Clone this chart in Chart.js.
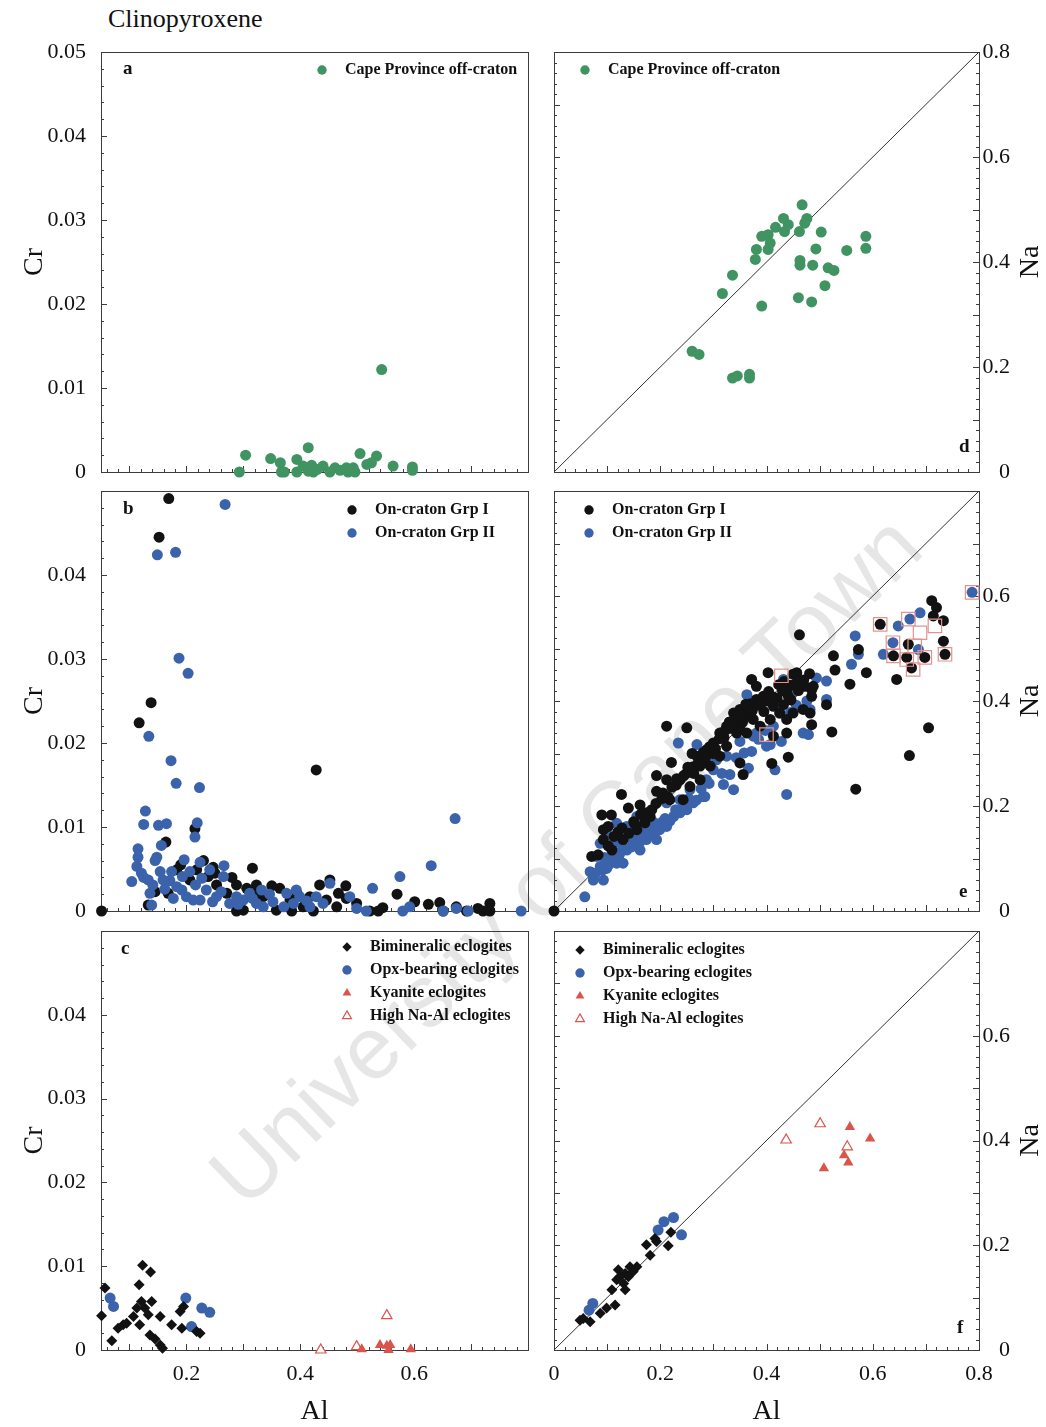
<!DOCTYPE html>
<html lang="en">
<head>
    <meta charset="UTF-8">
    <title>Clinopyroxene</title>
    <script src="https://cdn.jsdelivr.net/npm/chart.js"></script>
    <style>
        html, body { margin: 0; padding: 0; background: #fff; overflow: hidden; }
        #page { position: relative; width: 1046px; height: 1427px; }
        #page canvas { position: absolute; }
        .heading {
            position: absolute; left: 108px; top: 4px;
            font: 26px "Liberation Serif", "Times New Roman", serif; color: #111;
        }
        .stamp {
            position: absolute; left: 565px; top: 860px; white-space: nowrap;
            transform: translate(-50%, -50%) rotate(-44deg);
            font: 88px "Liberation Sans", Arial, sans-serif; color: #e6e6e6;
        }
    </style>
</head>
<body>
<div id="page">
    <div class="stamp">University of Cape Town</div>
    <div class="heading">Clinopyroxene</div>
    <canvas id="panelA" width="545" height="490" style="left:0;top:0"></canvas>
    <canvas id="panelD" width="511" height="490" style="left:535px;top:0"></canvas>
    <canvas id="panelB" width="545" height="460" style="left:0;top:470px"></canvas>
    <canvas id="panelE" width="511" height="460" style="left:535px;top:470px"></canvas>
    <canvas id="panelC" width="545" height="517" style="left:0;top:910px"></canvas>
    <canvas id="panelF" width="511" height="517" style="left:535px;top:910px"></canvas>
</div>

<script>
// tick labels
const crTicksTop = [0, 0.01, 0.02, 0.03, 0.04, 0.05];
const crTicks = [0, 0.01, 0.02, 0.03, 0.04];
const naTicksTop = [0, 0.2, 0.4, 0.6, 0.8];
const naTicks = [0, 0.2, 0.4, 0.6];
const alTicksLeft = [0.2, 0.4, 0.6];
const alTicksRight = [0, 0.2, 0.4, 0.6, 0.8];
const diagonal = [[0, 0], [0.8, 0.8]];

// Cape Province off-craton  [Al, Cr] and [Al, Na]
const capeAlCr = [[0.543,0.0122],[0.414,0.0029],[0.304,0.0020],[0.348,0.0016],[0.365,0.0011],[0.394,0.0015],
    [0.505,0.0022],[0.534,0.0019],[0.525,0.0011],[0.563,0.0007],[0.597,0.0006],[0.597,0.0002],[0.293,0],
    [0.367,0],[0.394,0],[0.414,0.0001],[0.423,0],[0.405,0.0007],[0.420,0.0008],[0.440,0.0007],[0.452,0],
    [0.461,0.0005],[0.481,0.0005],[0.484,0],[0.496,0],[0.493,0.0005],[0.517,0.0009],[0.372,0],[0.430,0.0003],[0.470,0.0002]];
const capeAlNa = [[0.467,0.509],[0.432,0.483],[0.441,0.471],[0.476,0.483],[0.472,0.474],[0.417,0.466],[0.434,0.458],
    [0.462,0.458],[0.503,0.457],[0.391,0.449],[0.403,0.452],[0.407,0.436],[0.381,0.424],[0.403,0.424],[0.379,0.405],
    [0.493,0.425],[0.551,0.422],[0.587,0.449],[0.587,0.426],[0.463,0.403],[0.463,0.394],[0.487,0.394],[0.516,0.389],
    [0.527,0.384],[0.510,0.355],[0.336,0.375],[0.317,0.340],[0.391,0.316],[0.460,0.332],[0.485,0.324],[0.260,0.230],
    [0.273,0.224],[0.336,0.179],[0.345,0.183],[0.368,0.186],[0.368,0.179]];

// On-craton groups
const grp1AlCr = [[0.169,0.0491],[0.152,0.0445],[0.138,0.0248],[0.117,0.0224],[0.428,0.0168],[0.164,0.0082],
    [0.215,0.0098],[0.316,0.0051],[0.051,0],[0.570,0.0020],[0.625,0.0008],[0.645,0.0010],[0.601,0.0011],[0.733,0.0009],
    [0.712,0.0003],[0.721,0],[0.651,0],[0.674,0.0005],[0.545,0.0004],[0.522,0],[0.230,0.0060],[0.247,0.0052],
    [0.253,0.0031],[0.288,0.0031],[0.306,0.0027],[0.434,0.0031],[0.452,0.0037],[0.467,0.0021],[0.133,0.0007],
    [0.145,0.0023],[0.168,0.0021],[0.364,0.0027],[0.206,0.0037],[0.183,0.0049],[0.271,0.0021],[0.335,0.0017],
    [0.382,0.0013],[0.405,0.0005],[0.417,0.0017],[0.481,0.0015],[0.499,0.0009],[0.288,0],[0.300,0.0001],[0.385,0],
    [0.423,0],[0.537,0],[0.464,0.0005],[0.733,0],[0.692,0],[0.218,0.0049],[0.238,0.0041],[0.323,0.0031],
    [0.358,0.0001],[0.446,0.0013],[0.190,0.0055],[0.250,0.0045],[0.280,0.0040],[0.320,0.0020],[0.350,0.0030],
    [0.395,0.0020],[0.480,0.0030]];
const grp2AlCr = [[0.268,0.0484],[0.149,0.0424],[0.181,0.0427],[0.187,0.0301],[0.203,0.0283],[0.134,0.0208],
    [0.173,0.0179],[0.182,0.0152],[0.223,0.0147],[0.128,0.0119],[0.125,0.0103],[0.151,0.0102],[0.165,0.0104],
    [0.219,0.0105],[0.215,0.0088],[0.156,0.0078],[0.115,0.0074],[0.115,0.0064],[0.148,0.0064],[0.145,0.0060],
    [0.196,0.0061],[0.672,0.0110],[0.630,0.0054],[0.575,0.0041],[0.527,0.0027],[0.788,0],[0.266,0.0054],
    [0.265,0.0041],[0.104,0.0035],[0.224,0.0058],[0.241,0.0049],[0.227,0.0039],[0.206,0.0047],[0.121,0.0045],
    [0.154,0.0047],[0.174,0.0047],[0.159,0.0037],[0.183,0.0029],[0.136,0.0021],[0.139,0.0007],[0.177,0.0015],
    [0.200,0.0017],[0.224,0.0013],[0.253,0.0017],[0.276,0.0009],[0.300,0.0013],[0.323,0.0009],[0.335,0.0005],
    [0.352,0.0011],[0.376,0.0021],[0.388,0.0009],[0.399,0.0017],[0.417,0.0005],[0.440,0.0009],[0.452,0.0033],
    [0.487,0.0017],[0.499,0.0003],[0.516,0],[0.580,0],[0.592,0.0005],[0.651,0],[0.674,0.0003],[0.695,0],
    [0.113,0.0053],[0.133,0.0037],[0.192,0.0025],[0.212,0.0013],[0.235,0.0025],[0.288,0.0017],[0.311,0.0021],
    [0.332,0.0025],[0.393,0.0025],[0.428,0.0017],[0.125,0.0040],[0.141,0.0031],[0.162,0.0026],[0.171,0.0036],
    [0.193,0.0041],[0.216,0.0031],[0.246,0.0011],[0.261,0.0023],[0.291,0.0008],[0.316,0.0015],[0.346,0.0020],
    [0.371,0.0005],[0.411,0.0012]];
const grp1AlNa = [[0.462,0.526],[0.711,0.591],[0.720,0.578],[0.714,0.562],[0.733,0.553],[0.733,0.514],[0.736,0.489],
    [0.698,0.483],[0.667,0.508],[0.664,0.483],[0.673,0.463],[0.639,0.486],[0.614,0.546],[0.645,0.441],[0.557,0.432],
    [0.588,0.454],[0.705,0.349],[0.669,0.296],[0.568,0.232],[0.523,0.341],[0.529,0.459],[0.526,0.486],[0.573,0.498],
    [0.513,0.393],[0.485,0.355],[0.441,0.293],[0.410,0.281],[0.356,0.260],[0.372,0.441],[0.403,0.454],[0.450,0.451],
    [0.438,0.416],[0.485,0.422],[0.212,0.352],[0.250,0.349],[0.193,0.258],[0.221,0.283],[0.127,0.222],[0.108,0.183],
    [0.093,0.155],[0.071,0.104],[0,0],[0.090,0.183],[0.102,0.161],[0.140,0.196],[0.162,0.202],[0.174,0.187],
    [0.193,0.228],[0.237,0.250],[0.250,0.263],[0.275,0.276],[0.269,0.295],[0.287,0.307],[0.300,0.320],[0.312,0.339],
    [0.325,0.352],[0.338,0.377],[0.350,0.384],[0.363,0.387],[0.375,0.365],[0.381,0.403],[0.394,0.409],[0.413,0.390],
    [0.425,0.377],[0.438,0.365],[0.450,0.377],[0.457,0.454],[0.441,0.409],[0.432,0.393],[0.381,0.428],[0.344,0.339],
    [0.325,0.314],[0.294,0.276],[0.256,0.237],[0.218,0.212],[0.181,0.180],[0.156,0.155],[0.130,0.136],[0.109,0.116],
    [0.093,0.136],[0.083,0.107],[0.350,0.352],[0.363,0.339],[0.388,0.352],[0.407,0.365],[0.413,0.333],[0.438,0.339],
    [0.485,0.409],[0.482,0.377],[0.469,0.384],[0.488,0.428],[0.312,0.295],[0.275,0.250],[0.212,0.250],[0.350,0.282],
    [0.243,0.212],[0.330,0.360],[0.345,0.370],[0.360,0.372],[0.370,0.395],[0.395,0.380],[0.400,0.400],[0.420,0.405],
    [0.430,0.420],[0.445,0.430],[0.460,0.420],[0.470,0.440],[0.355,0.360],[0.300,0.300],[0.285,0.290],[0.262,0.275],
    [0.230,0.240],[0.205,0.225],[0.150,0.170],[0.120,0.150],[0.260,0.300],[0.320,0.330],
    [0.102,0.124],[0.113,0.142],[0.128,0.158],[0.141,0.148],[0.152,0.166],[0.163,0.184],[0.171,0.168],[0.184,0.193],
    [0.192,0.205],[0.203,0.214],[0.214,0.218],[0.222,0.236],[0.231,0.252],[0.244,0.258],[0.252,0.274],[0.263,0.262],
    [0.272,0.284],[0.281,0.302],[0.293,0.313],[0.304,0.309],[0.311,0.328],[0.322,0.344],[0.333,0.348],[0.342,0.362],
    [0.352,0.372],[0.361,0.394],[0.373,0.381],[0.384,0.392],[0.392,0.398],[0.404,0.418],[0.414,0.407],[0.423,0.431],
    [0.433,0.437],[0.446,0.402],[0.458,0.437],[0.472,0.428],[0.481,0.452]];
const grp2AlNa = [[0.058,0.027],[0.068,0.075],[0.074,0.066],[0.087,0.085],[0.099,0.081],[0.105,0.097],[0.124,0.110],
    [0.118,0.091],[0.137,0.116],[0.149,0.129],[0.162,0.132],[0.168,0.148],[0.181,0.145],[0.187,0.161],[0.199,0.155],
    [0.206,0.171],[0.212,0.161],[0.225,0.180],[0.237,0.187],[0.250,0.193],[0.262,0.206],[0.281,0.218],[0.284,0.218],
    [0.256,0.231],[0.237,0.212],[0.212,0.206],[0.156,0.180],[0.137,0.161],[0.118,0.167],[0.099,0.148],[0.087,0.129],
    [0.080,0.104],[0.112,0.129],[0.143,0.142],[0.174,0.136],[0.193,0.136],[0.162,0.116],[0.130,0.091],[0.093,0.059],
    [0.074,0.059],[0.300,0.269],[0.306,0.288],[0.319,0.241],[0.331,0.260],[0.338,0.231],[0.366,0.272],[0.416,0.269],
    [0.438,0.222],[0.407,0.317],[0.428,0.323],[0.413,0.352],[0.425,0.377],[0.469,0.339],[0.479,0.336],[0.482,0.384],
    [0.476,0.400],[0.513,0.403],[0.494,0.444],[0.513,0.438],[0.560,0.470],[0.573,0.489],[0.567,0.524],[0.620,0.489],
    [0.638,0.511],[0.648,0.543],[0.670,0.556],[0.689,0.568],[0.686,0.498],[0.787,0.607],[0.363,0.412],[0.372,0.304],
    [0.350,0.323],[0.341,0.349],[0.375,0.333],[0.300,0.314],[0.269,0.317],[0.234,0.320],[0.325,0.295],[0.350,0.346],
    [0.381,0.339],[0.432,0.441],[0.450,0.416],[0.400,0.314],[0.287,0.250],
    [0.078,0.072],[0.091,0.078],[0.103,0.088],[0.112,0.101],[0.122,0.104],[0.133,0.118],[0.146,0.122],[0.154,0.138],
    [0.166,0.139],[0.176,0.152],[0.188,0.149],[0.197,0.166],[0.209,0.176],[0.218,0.171],[0.229,0.193],[0.243,0.199],
    [0.254,0.214],[0.268,0.211],[0.277,0.233],[0.292,0.243],[0.316,0.262],[0.343,0.292],[0.358,0.301],[0.385,0.327],
    [0.398,0.344],[0.445,0.378],[0.456,0.392],[0.095,0.102],[0.128,0.126],[0.185,0.171]];
const squaredAlNa = [[0.614,0.546],[0.638,0.511],[0.667,0.556],[0.689,0.530],[0.679,0.505],[0.664,0.479],[0.676,0.460],
    [0.698,0.483],[0.717,0.543],[0.736,0.489],[0.787,0.607],[0.428,0.448],[0.400,0.336],[0.639,0.486]];

// eclogite types
const bimAlCr = [[0.123,0.0101],[0.137,0.0093],[0.117,0.0078],[0.057,0.0074],[0.051,0.0041],[0.113,0.0050],
    [0.121,0.0058],[0.127,0.0050],[0.139,0.0058],[0.133,0.0042],[0.154,0.0040],[0.118,0.0030],[0.089,0.0030],
    [0.080,0.0026],[0.095,0.0032],[0.107,0.0040],[0.136,0.0018],[0.145,0.0013],[0.154,0.0006],[0.158,0.0002],
    [0.069,0.0011],[0.174,0.0030],[0.192,0.0026],[0.189,0.0046],[0.195,0.0052],[0.218,0.0022],[0.224,0.0020]];
const opxAlCr = [[0.066,0.0062],[0.072,0.0052],[0.199,0.0062],[0.227,0.0050],[0.241,0.0045],[0.209,0.0028]];
const kyAlCr = [[0.508,0.0001],[0.540,0.0006],[0.552,0.0005],[0.558,0.0006],[0.555,0],[0.594,0.0001]];
const hnaAlCr = [[0.552,0.0041],[0.436,0],[0.499,0.0004]];
const bimAlNa = [[0.220,0.225],[0.215,0.199],[0.190,0.213],[0.174,0.201],[0.181,0.181],[0.156,0.159],[0.143,0.159],
    [0.134,0.146],[0.121,0.153],[0.118,0.134],[0.131,0.127],[0.109,0.115],[0.134,0.115],[0.115,0.086],[0.087,0.070],
    [0.099,0.080],[0.055,0.060],[0.068,0.054],[0.049,0.057],[0.140,0.140],[0.149,0.150],[0.124,0.140],[0.193,0.207]];
const opxAlNa = [[0.225,0.253],[0.207,0.245],[0.196,0.229],[0.240,0.220],[0.073,0.089],[0.066,0.076]];
const kyAlNa = [[0.557,0.426],[0.595,0.404],[0.546,0.372],[0.554,0.358],[0.508,0.347]];
const hnaAlNa = [[0.501,0.432],[0.437,0.401],[0.552,0.388]];

const serif = '"Liberation Serif", "Times New Roman", serif';
const GREEN = '#3f9461', BLUE = '#3b63ab', BLACK = '#121212', RED = '#d9544b', PINK = '#e3938d';

function series(rows, label, color, style, r, order, hollow) {
    return {
        label, order, clip: false, showLine: false,
        data: rows.map(([x, y]) => ({x, y})),
        pointStyle: style, pointRadius: r, pointHoverRadius: r,
        pointBackgroundColor: hollow ? (hollow === 'clear' ? 'rgba(0,0,0,0)' : '#fff') : color,
        pointBorderColor: color, pointBorderWidth: hollow ? 1.2 : 0
    };
}

function diag() {
    return {
        label: '', order: 50, showLine: true, pointRadius: 0, borderColor: '#333', borderWidth: 1,
        data: diagonal.map(([x, y]) => ({x, y}))
    };
}

// frame plus inward minor/major tick marks
const inTicks = {
    id: 'inTicks',
    beforeDatasetsDraw(chart, args, o) {
        const {ctx, chartArea: a, scales} = chart;
        ctx.save();
        ctx.strokeStyle = '#3c3c3c';
        ctx.lineWidth = 1;
        ctx.strokeRect(Math.round(a.left) + 0.5, Math.round(a.top) + 0.5,
            Math.round(a.right - a.left), Math.round(a.bottom - a.top));
        const marks = (scale, step, every, draw) => {
            const k0 = Math.ceil(scale.min / step - 1e-6), k1 = Math.floor(scale.max / step + 1e-6);
            for (let k = k0; k <= k1; k++) {
                draw(Math.round(scale.getPixelForValue(k * step)) + 0.5, k % every === 0 ? 6 : 3);
            }
        };
        ctx.beginPath();
        marks(scales.x, o.xStep, o.xEvery, (p, len) => {
            ctx.moveTo(p, a.bottom); ctx.lineTo(p, a.bottom - len);
        });
        marks(scales.y, o.yStep, o.yEvery, (p, len) => {
            ctx.moveTo(a.left, p); ctx.lineTo(a.left + len, p);
            if (o.both) { ctx.moveTo(a.right, p); ctx.lineTo(a.right - len, p); }
        });
        ctx.stroke();
        ctx.restore();
    }
};

// in-panel key, panel letter and the right-hand axis title
const keyAndTags = {
    id: 'keyAndTags',
    afterDatasetsDraw(chart, args, o) {
        const {ctx, chartArea: a} = chart;
        ctx.save();
        ctx.textBaseline = 'middle';
        ctx.textAlign = 'left';
        ctx.fillStyle = '#111';
        ctx.font = `bold 19px ${serif}`;
        ctx.fillText(o.tag, a.left + o.tagAt[0], a.top + o.tagAt[1]);
        let yy = a.top + o.keyAt[1];
        const xx = a.left + o.keyAt[0];
        chart.data.datasets.forEach(ds => {
            if (!ds.label) return;
            ctx.fillStyle = ds.pointBackgroundColor;
            ctx.strokeStyle = ds.pointBorderColor;
            ctx.lineWidth = ds.pointBorderWidth;
            Chart.helpers.drawPoint(ctx, {
                pointStyle: ds.pointStyle, radius: ds.pointRadius * 0.85,
                borderWidth: ds.pointBorderWidth, rotation: 0
            }, xx, yy);
            ctx.fillStyle = '#111';
            ctx.font = `bold 16px ${serif}`;
            ctx.fillText(ds.label, xx + 23, yy);
            yy += 23;
        });
        if (o.rightTitle) {
            ctx.translate(o.rightTitle.x, (a.top + a.bottom) / 2);
            ctx.rotate(-Math.PI / 2);
            ctx.textAlign = 'center';
            ctx.font = `28px ${serif}`;
            ctx.fillText(o.rightTitle.text, 0, 0);
        }
        ctx.restore();
    }
};

const tickFont = {family: serif, size: 22};

function panel(id, p) {
    const left = p.side === 'left';
    const xAxis = {
        type: 'linear', min: left ? 0.05 : 0, max: 0.8,
        display: !!p.xTicks,
        grid: {display: false}, border: {display: false},
        afterBuildTicks: s => { if (p.xTicks) s.ticks = p.xTicks.map(v => ({value: v})); },
        afterFit: s => {
            s.height = p.xTicks ? 77 : 0;
            s.paddingLeft = s.paddingRight = 0;
        },
        ticks: {font: tickFont, color: '#111', padding: 3, autoSkip: false, maxRotation: 0,
            callback: v => String(v)},
        title: {display: true, text: 'Al', color: '#111', font: {family: serif, size: 28, lineHeight: 1},
            padding: {top: 0, bottom: 1}}
    };
    const yAxis = {
        type: 'linear', position: left ? 'left' : 'right',
        min: 0, max: left ? 0.05 : 0.8,
        grid: {display: false}, border: {display: false},
        afterBuildTicks: s => { s.ticks = p.yTicks.map(v => ({value: v})); },
        afterFit: s => {
            s.width = left ? 101 : 31;
            s.paddingTop = s.paddingBottom = 0;
        },
        ticks: {font: tickFont, color: '#111', padding: left ? 7 : 0, autoSkip: false,
            crossAlign: left ? 'near' : 'far', callback: v => String(v)},
        title: {display: left, text: 'Cr', color: '#111', font: {family: serif, size: 28, lineHeight: 1},
            padding: {top: 21, bottom: 0}}
    };
    return new Chart(document.getElementById(id), {
        type: 'scatter',
        data: {datasets: p.datasets},
        options: {
            responsive: false, animation: false, events: [],
            layout: {padding: p.pad},
            scales: {x: xAxis, y: yAxis},
            plugins: {
                legend: {display: false}, tooltip: {enabled: false},
                inTicks: left ? {xStep: 0.02, xEvery: 5, yStep: 0.002, yEvery: 5, both: false}
                              : {xStep: 0.02, xEvery: 5, yStep: 0.02, yEvery: 5, both: true},
                keyAndTags: {tag: p.tag, tagAt: p.tagAt, keyAt: p.keyAt,
                    rightTitle: left ? null : {text: 'Na', x: 496}}
            }
        },
        plugins: [inTicks, keyAndTags]
    });
}

// left column: chart spans x 101..528; right column: 554..979 with labels ending at 1010
const padL = (top, bottom) => ({left: 0, right: 17, top, bottom});
const padR = (top, bottom) => ({left: 19, right: 36, top, bottom});

panel('panelA', {
    side: 'left', yTicks: crTicksTop, pad: padL(52, 18), tag: 'a', tagAt: [22, 17], keyAt: [221, 18],
    datasets: [series(capeAlCr, 'Cape Province off-craton', GREEN, 'circle', 5.5, 1)]
});
panel('panelD', {
    side: 'right', yTicks: naTicksTop, pad: padR(52, 18), tag: 'd', tagAt: [405, 395], keyAt: [31, 18],
    datasets: [series(capeAlNa, 'Cape Province off-craton', GREEN, 'circle', 5.5, 1), diag()]
});
panel('panelB', {
    side: 'left', yTicks: crTicks, pad: padL(21, 19), tag: 'b', tagAt: [22, 18], keyAt: [251, 19],
    datasets: [
        series(grp1AlCr, 'On-craton Grp I', BLACK, 'circle', 5.5, 2),
        series(grp2AlCr, 'On-craton Grp II', BLUE, 'circle', 5.5, 1)
    ]
});
panel('panelE', {
    side: 'right', yTicks: naTicks, pad: padR(21, 19), tag: 'e', tagAt: [405, 401], keyAt: [35, 19],
    datasets: [
        series(grp1AlNa, 'On-craton Grp I', BLACK, 'circle', 5.5, 2),
        series(grp2AlNa, 'On-craton Grp II', BLUE, 'circle', 5.5, 3),
        series(squaredAlNa, '', PINK, 'rect', 9.5, 1, 'clear'),
        diag()
    ]
});
panel('panelC', {
    side: 'left', xTicks: alTicksLeft, yTicks: crTicks, pad: padL(21, 0), tag: 'c', tagAt: [20, 18], keyAt: [246, 16],
    datasets: [
        series(bimAlCr, 'Bimineralic eclogites', BLACK, 'rectRot', 5.5, 2),
        series(opxAlCr, 'Opx-bearing eclogites', BLUE, 'circle', 5.5, 3),
        series(kyAlCr, 'Kyanite eclogites', RED, 'triangle', 6, 1),
        series(hnaAlCr, 'High Na-Al eclogites', RED, 'triangle', 6, 1, true)
    ]
});
panel('panelF', {
    side: 'right', xTicks: alTicksRight, yTicks: naTicks, pad: padR(21, 0), tag: 'f', tagAt: [403, 397], keyAt: [26, 19],
    datasets: [
        series(bimAlNa, 'Bimineralic eclogites', BLACK, 'rectRot', 5.5, 2),
        series(opxAlNa, 'Opx-bearing eclogites', BLUE, 'circle', 5.5, 3),
        series(kyAlNa, 'Kyanite eclogites', RED, 'triangle', 6, 1),
        series(hnaAlNa, 'High Na-Al eclogites', RED, 'triangle', 6, 1, true),
        diag()
    ]
});
</script>
</body>
</html>
